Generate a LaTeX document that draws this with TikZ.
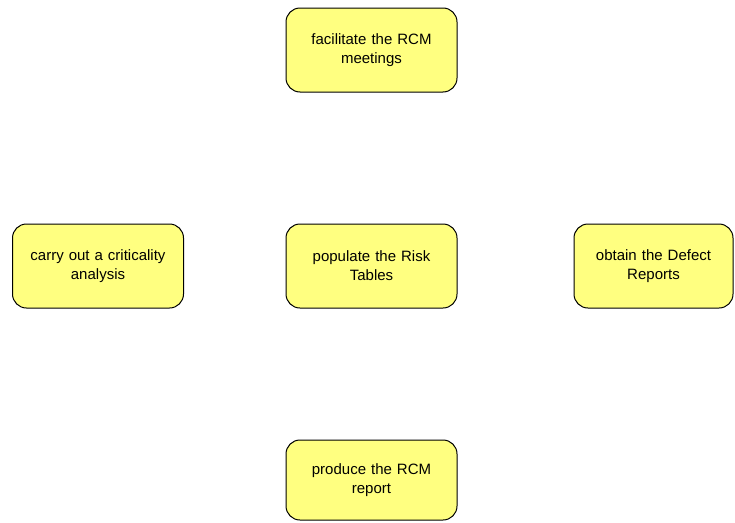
\documentclass[tikz,border=0pt]{standalone}
\usepackage{fontspec}
\setmainfont{Liberation Sans}
\definecolor{taskfill}{RGB}{255,255,128}
\begin{document}
\begin{tikzpicture}[x=1pt,y=-1pt,
  task/.style={draw=black, line width=1pt, fill=taskfill, rounded corners=14pt,
    minimum width=171pt, minimum height=84pt, inner sep=2pt,
    align=center, text width=150pt,
    font=\fontsize{15pt}{19pt}\selectfont}]
  \useasboundingbox (0,0) rectangle (735,522);
  \node[task] (meet) at (371.5,50) {facilitate the RCM\\meetings};
  \node[task] (crit) at (98,266) {carry out a criticality\\analysis};
  \node[task] (risk) at (371.5,266) {populate the Risk\\Tables};
  \node[task, minimum width=159pt] (defect) at (653.5,266) {obtain the Defect\\Reports};
  \node[task, minimum height=80pt] (report) at (371.5,480) {produce the RCM\\report};
\end{tikzpicture}
\end{document}
